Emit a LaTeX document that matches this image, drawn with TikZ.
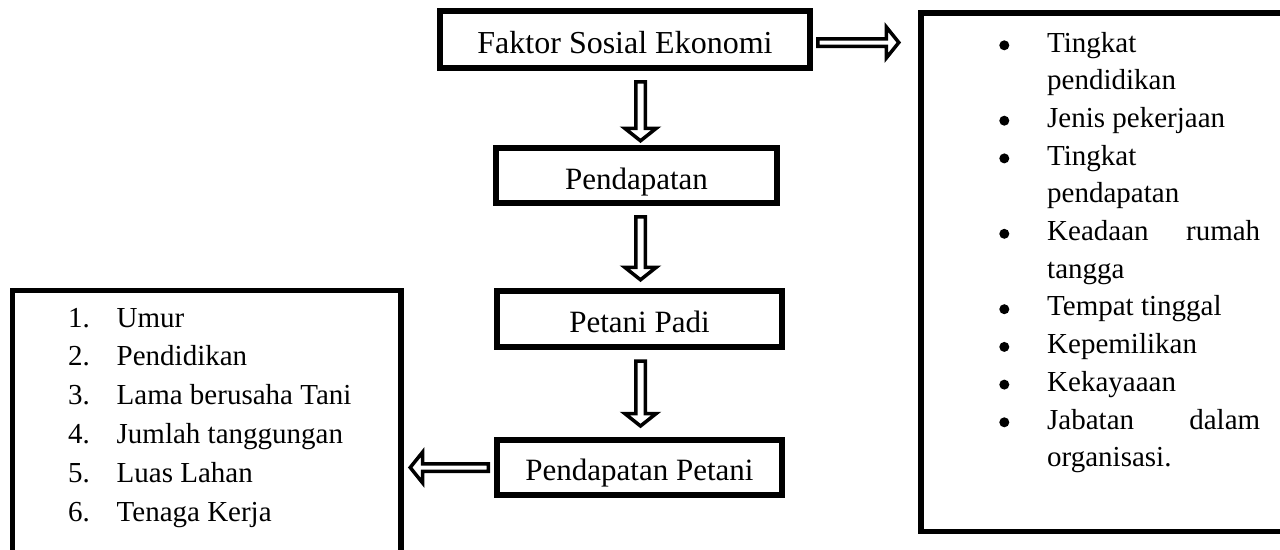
\documentclass[tikz,border=0pt]{standalone}
\usepackage{fontspec}
\setmainfont{Liberation Serif}
\usetikzlibrary{calc}
\tikzset{
  box/.style={draw, line width=5.5pt, inner sep=0pt, minimum height=0pt, align=center, font=\fontsize{31}{36}\selectfont},
  frame/.style={draw, line width=5.5pt, inner sep=0pt, anchor=north west},
  blk/.style={draw, line width=3.5pt, line join=miter, fill=white},
}
\def\asw{4.75pt}\def\ahw{15.75pt}\def\ahl{12.5pt}
\newcommand\blockarrow[2]{%
  \coordinate (#1b) at ($(#2)!\ahl!(#1)$);
  \draw[blk] ($(#1)!\asw!90:(#2)$) -- ($(#1b)!\asw!90:(#2)$) -- ($(#1b)!\ahw!90:(#2)$) -- (#2)
    -- ($(#1b)!\ahw!-90:(#2)$) -- ($(#1b)!\asw!-90:(#2)$) -- ($(#1)!\asw!-90:(#2)$) -- cycle;}
\begin{document}
\begin{tikzpicture}[x=1pt,y=-1pt]
\useasboundingbox (0,0) rectangle (1280,549);
\clip (0,0) rectangle (1280,549);
\fill[white] (0,0) rectangle (1280,549);

% main boxes
\node[box, minimum width=370pt, text height=42pt, text depth=15pt, font=\fontsize{32}{38}\selectfont] (f) at (625,39.5) {Faktor Sosial Ekonomi};
\node[box, minimum width=281pt, text height=41pt, text depth=14pt] (p) at (636.5,175.5) {Pendapatan};
\node[box, minimum width=285pt, text height=41pt, text depth=15pt] (pp) at (639.5,319) {Petani Padi};
\node[box, minimum width=285pt, text height=40pt, text depth=15pt] (ppt) at (639.5,467.5) {Pendapatan Petani};

% side boxes
\node[frame, minimum width=388.5pt, minimum height=263.5pt] (lbox) at (9.5,287.5) {};
\node[frame, minimum width=365pt, minimum height=518.5pt] (rbox) at (918,10) {};

\node[anchor=base west, inner sep=0pt] (llist) at (68,327) {\parbox[t]{320pt}{\fontsize{29}{38.8}\selectfont
\makebox[48.5pt][l]{1.}Umur\\
\makebox[48.5pt][l]{2.}Pendidikan\\
\makebox[48.5pt][l]{3.}Lama berusaha Tani\\
\makebox[48.5pt][l]{4.}Jumlah tanggungan\\
\makebox[48.5pt][l]{5.}Luas Lahan\\
\makebox[48.5pt][l]{6.}Tenaga Kerja}};

\node[anchor=base west, inner sep=0pt] (rlist) at (1047,52) {\parbox[t]{240pt}{\fontsize{29}{37.7}\selectfont
Tingkat\\
pendidikan\\
Jenis pekerjaan\\
Tingkat\\
pendapatan\\
\makebox[213pt][s]{Keadaan rumah}\\
tangga\\
Tempat tinggal\\
Kepemilikan\\
Kekayaaan\\
\makebox[213pt][s]{Jabatan dalam}\\
organisasi.}};
\foreach \yy in {0,2,3,5,7,8,9,10}
  \fill (1004.3,45.3+37.7*\yy) circle (5pt);

% vertical arrows
\coordinate (a1s) at (640.5,81.75);  \coordinate (a1e) at (640.5,140.8);
\coordinate (a2s) at (640.5,216.75); \coordinate (a2e) at (640.5,279.8);
\coordinate (a3s) at (640.5,361);    \coordinate (a3e) at (640.5,426);
\blockarrow{a1s}{a1e}
\blockarrow{a2s}{a2e}
\blockarrow{a3s}{a3e}

% horizontal arrows
\def\asw{3.75pt}\def\ahw{15.5pt}\def\ahl{12.5pt}
\coordinate (ras) at (817.75,42.5); \coordinate (rae) at (898.8,42.5);
\blockarrow{ras}{rae}
\coordinate (las) at (488.25,467.5); \coordinate (lae) at (410.2,467.5);
\blockarrow{las}{lae}
\end{tikzpicture}
\end{document}
